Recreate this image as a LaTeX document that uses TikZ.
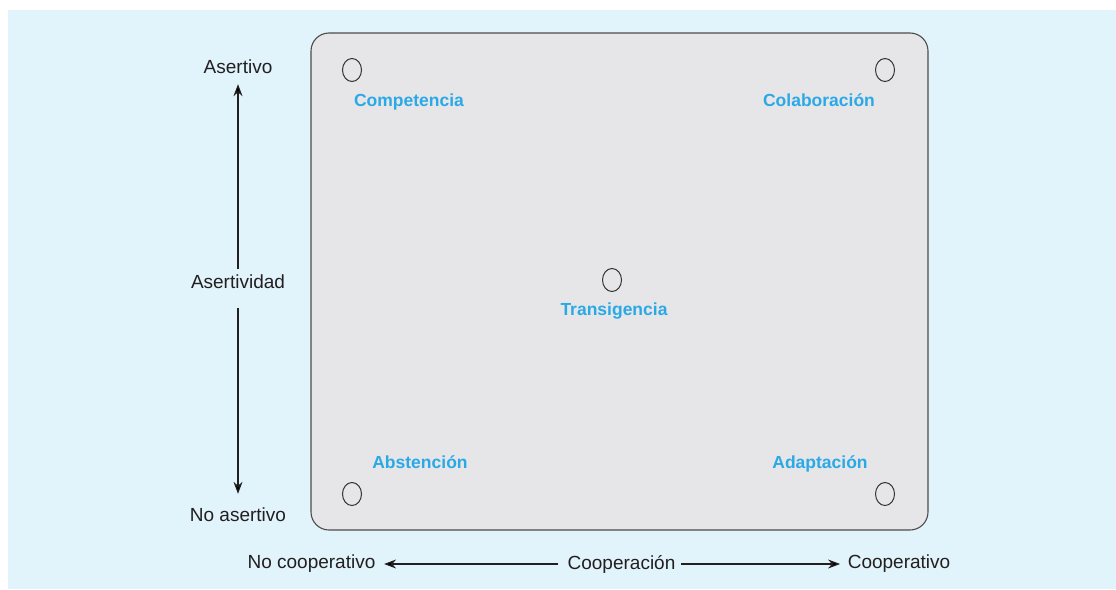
\documentclass[tikz,border=0pt]{standalone}
\usepackage{fontspec}
\setmainfont{Liberation Sans}
\usetikzlibrary{shapes.geometric,arrows.meta}
\definecolor{fondo}{HTML}{E1F3FB}
\definecolor{caja}{HTML}{E6E6E8}
\definecolor{azul}{HTML}{2AA9E6}
\definecolor{tinta}{HTML}{231F20}
\begin{document}
\begin{tikzpicture}[x=1pt,y=-1pt,
  eje/.style={text=tinta, font=\fontsize{19}{21}\selectfont, inner sep=3pt},
  estilo/.style={text=azul, font=\fontsize{17.5}{19}\selectfont\bfseries},
  punto/.style={shape=ellipse, draw=black!80, fill=caja, line width=1pt, minimum width=19pt, minimum height=23pt, inner sep=0pt},
  flecha/.style={-{Stealth[length=12pt,width=9pt]}, line width=1.1pt, draw=tinta}]
\useasboundingbox (0,0) rectangle (1116,589);
\fill[fondo] (8,10) rectangle (1116,589);
\draw[draw=black!70, fill=caja, line width=1.1pt, rounded corners=18pt] (311,33) rectangle (928,530);
% estilos de manejo de conflictos
\node[punto] (p1) at (352,70) {};
\node[punto] (p2) at (885,70) {};
\node[punto] (p3) at (612,280) {};
\node[punto] (p4) at (352,494) {};
\node[punto] (p5) at (885,494) {};
\node[estilo] (comp) at (409,102) {Competencia};
\node[estilo] (cola) at (819,100) {Colaboración};
\node[estilo] (tran) at (614,311) {Transigencia};
\node[estilo] (abst) at (420,462) {Abstención};
\node[estilo] (adap) at (820,464) {Adaptación};
% ejes
\node[eje] (asert) at (238,67) {Asertivo};
\node[eje] (asertdad) at (238,282) {Asertividad};
\node[eje] (noasert) at (238,515) {No asertivo};
\node[eje] (nocoop) at (311.5,564) {No cooperativo};
\node[eje] (cooper) at (621.5,564) {Cooperación};
\node[eje] (coop) at (899,564) {Cooperativo};
\path [flecha, shorten <=3pt, shorten >=7pt] (asertdad) edge (asert);
\path [flecha, shorten <=16pt, shorten >=11pt] (asertdad) edge (noasert);
\path [flecha, shorten <=6pt, shorten >=5.5pt] (cooper) edge (nocoop);
\path [flecha, shorten <=2.5pt, shorten >=4.5pt] (cooper) edge (coop);
\end{tikzpicture}
\end{document}
